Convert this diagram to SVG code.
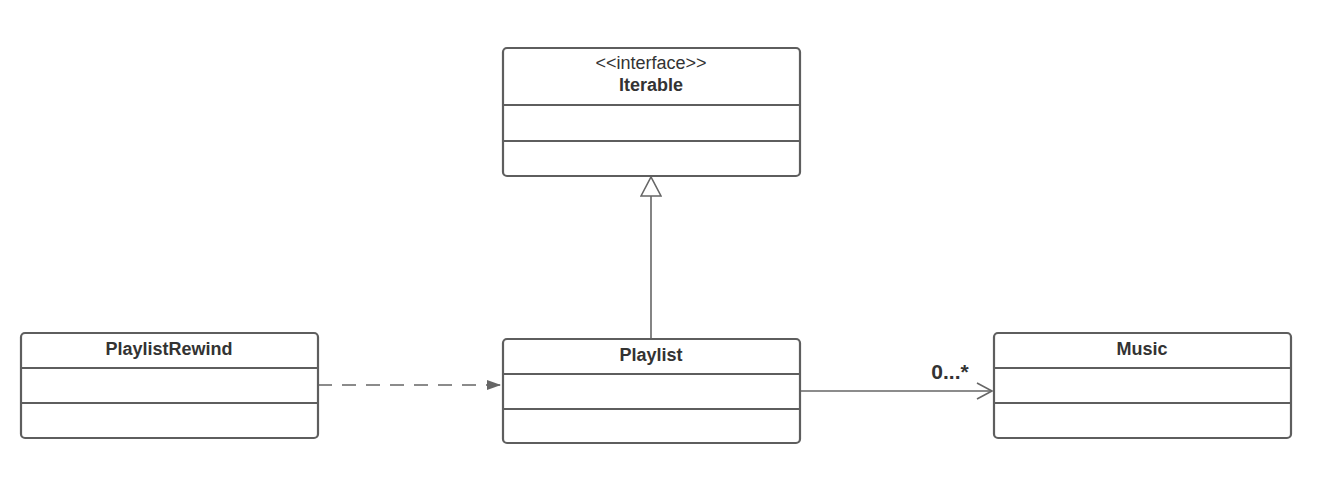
<svg xmlns="http://www.w3.org/2000/svg" width="1323" height="479" viewBox="0 0 1323 479">
<style>
.box{fill:#fff;stroke:#5e5e5e;stroke-width:2.2}
.div{stroke:#5e5e5e;stroke-width:2.2}
.t{font-family:"Liberation Sans",Arial,sans-serif;font-size:18px;fill:#333;text-anchor:middle}
.b{font-weight:bold}
.c{stroke:#666;stroke-width:1.6;fill:none}
</style>
<defs>
<marker id="tri" markerWidth="24" markerHeight="22" refX="21" refY="11" orient="auto" markerUnits="userSpaceOnUse">
<path d="M2,1 L21,11 L2,21 Z" fill="#fff" stroke="#666" stroke-width="1.6"/>
</marker>
<marker id="fill" markerWidth="16" markerHeight="12" refX="15" refY="6" orient="auto" markerUnits="userSpaceOnUse">
<path d="M1,1 L15,6 L1,11 Z" fill="#666"/>
</marker>
<marker id="open" markerWidth="18" markerHeight="20" refX="16" refY="10" orient="auto" markerUnits="userSpaceOnUse">
<path d="M1,2 L16,10 L1,18" fill="none" stroke="#666" stroke-width="1.6"/>
</marker>
</defs>
<g id="connectors">
<path class="c" d="M651,338 L651,177" marker-end="url(#tri)"/>
<path class="c" d="M318,385 L501,385" stroke-dasharray="14,10" marker-end="url(#fill)"/>
<path class="c" d="M800,391 L992,391" marker-end="url(#open)"/>
<text class="t b" x="950" y="379" style="font-size:21px">0...*</text>
</g>
<g id="Iterable">
<rect class="box" x="503" y="48" width="297" height="128" rx="4"/>
<line class="div" x1="503" y1="105" x2="800" y2="105"/>
<line class="div" x1="503" y1="141" x2="800" y2="141"/>
<text class="t" x="651" y="69">&lt;&lt;interface&gt;&gt;</text>
<text class="t b" x="651" y="91">Iterable</text>
</g>
<g id="PlaylistRewind">
<rect class="box" x="21" y="333" width="297" height="105" rx="4"/>
<line class="div" x1="21" y1="368" x2="318" y2="368"/>
<line class="div" x1="21" y1="403" x2="318" y2="403"/>
<text class="t b" x="169" y="355">PlaylistRewind</text>
</g>
<g id="Playlist">
<rect class="box" x="503" y="339" width="297" height="104" rx="4"/>
<line class="div" x1="503" y1="374" x2="800" y2="374"/>
<line class="div" x1="503" y1="409" x2="800" y2="409"/>
<text class="t b" x="651" y="361">Playlist</text>
</g>
<g id="Music">
<rect class="box" x="994" y="333" width="297" height="105" rx="4"/>
<line class="div" x1="994" y1="368" x2="1291" y2="368"/>
<line class="div" x1="994" y1="403" x2="1291" y2="403"/>
<text class="t b" x="1142" y="355">Music</text>
</g>
</svg>
